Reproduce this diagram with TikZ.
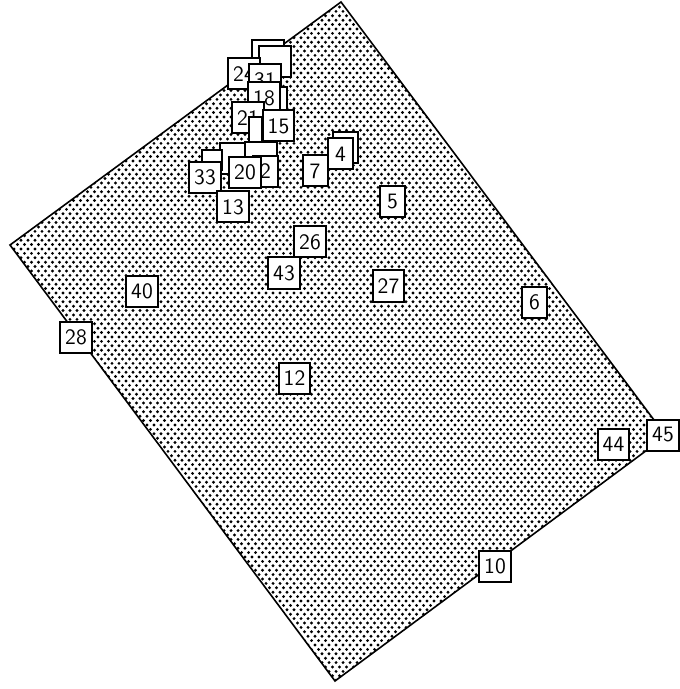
\documentclass[tikz,border=0pt]{standalone}
\usetikzlibrary{patterns}
\pgfdeclarepatternformonly{sparse dots}{\pgfqpoint{-0.9pt}{-0.9pt}}{\pgfqpoint{2.6pt}{3.5pt}}{\pgfqpoint{3.5pt}{4.4pt}}{%
  \pgfpathcircle{\pgfqpoint{0pt}{0pt}}{.8pt}%
  \pgfpathcircle{\pgfqpoint{1.75pt}{2.2pt}}{.8pt}%
  \pgfusepath{fill}}
\tikzset{
  pointbox/.style={draw, line width=1pt, fill=white, font=\sffamily\fontsize{11}{13}\selectfont,
    minimum width=12.5pt, minimum height=15.5pt, inner xsep=2.5pt, inner ysep=0pt},
  backbox/.style={pointbox, minimum width=16pt},
  hull/.style={draw, line width=0.8pt, pattern=sparse dots}
}

\begin{document}
\begin{tikzpicture}[x=0.5pt, y=-0.5pt]
  \useasboundingbox (0,0) rectangle (679,689);

  % dotted region
  \draw[hull] (341,2) -- (666,436) -- (335,681) -- (10,245) -- cycle;

  % crowded cluster at the top, back to front
  \node[backbox] (e1) at (268,56) {};
  \node[backbox] (e2) at (275,62) {};
  \node[pointbox] (p24) at (244,74) {24};
  \node[pointbox] (p31) at (265,80) {31};
  \node[backbox] (e3) at (271,103) {};
  \node[pointbox] (p18) at (264,98) {18};
  \node[pointbox] (p21) at (248,118) {21};
  \node[pointbox, minimum width=6.5pt, minimum height=12.5pt, inner xsep=0pt] (e4) at (255.5,129.5) {};
  \node[pointbox] (p15) at (278.5,126) {15};
  \node[backbox] (e5) at (236,159) {};
  \node[backbox] (e6) at (261,157.5) {};
  \node[pointbox, minimum width=10pt, minimum height=10pt, inner xsep=0pt] (e7) at (212,160) {};
  \node[pointbox] (p2) at (265.5,171.5) {2};
  \node[pointbox] (p20) at (245,172.5) {20};
  \node[pointbox] (p33) at (205,177.5) {33};
  \node[pointbox] (p13) at (233,207) {13};

  % remaining points
  \node[pointbox] (p7) at (315,171) {7};
  \node[pointbox] (e8) at (345.5,147.5) {};
  \node[pointbox] (p4) at (340.5,154) {4};
  \node[pointbox] (p5) at (392.5,202) {5};
  \node[pointbox] (p26) at (310,242) {26};
  \node[pointbox] (p43) at (284,273) {43};
  \node[pointbox] (p27) at (388.5,286) {27};
  \node[pointbox] (p40) at (142,291.5) {40};
  \node[pointbox] (p28) at (76,337.5) {28};
  \node[pointbox] (p6) at (534.5,302.5) {6};
  \node[pointbox] (p12) at (294.5,378) {12};
  \node[pointbox] (p44) at (613.5,444) {44};
  \node[pointbox] (p45) at (663,435) {45};
  \node[pointbox] (p10) at (495,566) {10};
\end{tikzpicture}
\end{document}
